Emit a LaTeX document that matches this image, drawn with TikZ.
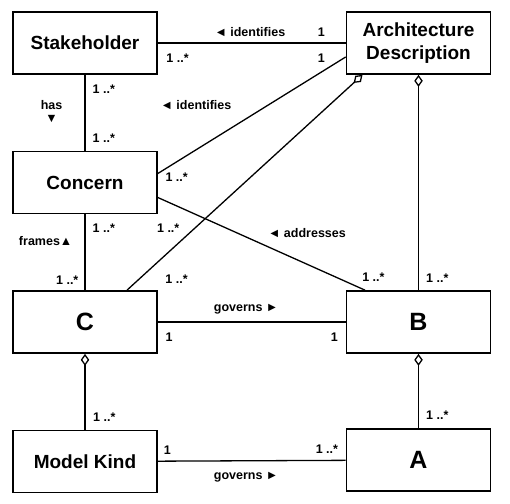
\documentclass[tikz,border=0pt]{standalone}
\usepackage{fontspec}
\setmainfont{Liberation Sans}
\usetikzlibrary{positioning,arrows.meta}
\begin{document}
\begin{tikzpicture}[x=1pt, y=-1pt,
        box/.style = {draw, line width=1.7pt, minimum width=144pt, minimum height=62pt, align=center, font=\fontsize{19}{23}\selectfont\bfseries},
        big/.style = {font=\fontsize{25}{30}\selectfont\bfseries},
        lbl/.style = {inner sep=1pt, font=\fontsize{12.5}{13}\selectfont\bfseries},
        link/.style = {line width=1.3pt},
        agg/.style = {link, -{Diamond[open, fill=white, length=12pt, width=8.5pt]}},
        node distance=139.5pt]
        \useasboundingbox (0,0) rectangle (510,503);
        \node[box] (sh) at (85,43) {Stakeholder};
        \node[box] (ad) [right of=sh, node distance=333.5pt] {Architecture\\Description};
        \node[box] (co) [below of=sh] {Concern};
        \node[box,big] (c) [below of=co] {C};
        \node[box] (mk) [below of=c] {Model Kind};
        \node[box,big] (b) [right of=c, node distance=333.5pt] {B};
        \node[box,big] (a) [below of=b, node distance=138pt] {A};
        \draw[link] (sh) -- node[lbl, pos=.49, above=5pt] (l1) {◄ identifies}
            node[lbl, pos=.87, above=5pt] (l2) {1}
            node[lbl, pos=.105, below=9pt] (l3) {1 ..*} (ad);
        \draw[link] (sh) -- node[lbl, pos=.19, right=6pt] (l4) {1 ..*}
            node[lbl, pos=.83, right=6pt] (l5) {1 ..*}
            node[lbl, pos=.48, left=21pt, align=center] (l6) {has\\▼} (co);
        \draw[link] ([yshift=9pt]co.east) -- node[lbl, pos=0, anchor=west, xshift=6pt, yshift=-4pt] (l7) {1 ..*}
            node[lbl, pos=.87, above=8pt] (l8) {1}
            node[lbl, pos=.4, above left=16pt and 0pt] (l9) {◄ identifies} ([yshift=-14pt]ad.west);
        \draw[agg] ([xshift=42pt]c.north) -- node[lbl, pos=.05, right=25pt] (l10) {1 ..*} ([xshift=-56pt]ad.south);
        \draw[agg] (b) -- node[lbl, pos=.055, right=6pt] (l11) {1 ..*} (ad);
        \draw[link] ([yshift=-15pt]co.east) -- node[lbl, pos=.72, above=25pt] (l12) {◄ addresses}
            node[lbl, pos=.05, below=20pt] (l13) {1 ..*}
            node[lbl, pos=.95, above right=2pt and 6pt] (l14) {1 ..*} ([xshift=-53.5pt]b.north);
        \draw[link] (co) -- node[lbl, pos=.18, right=6pt] (l15) {1 ..*}
            node[lbl, pos=.35, left=11pt] (l16) {frames▲}
            node[lbl, pos=.87, left=5pt] (l17) {1 ..*} (c);
        \draw[link] (c) -- node[lbl, pos=.47, above=6pt] (l18) {governs ►}
            node[lbl, pos=.06, below=9pt] (l19) {1}
            node[lbl, pos=.94, below=9pt] (l20) {1} (b);
        \draw[agg] (mk) -- node[lbl, pos=.16, right=6.5pt] (l21) {1 ..*} (c);
        \draw[agg] (a) -- node[lbl, pos=.18, right=6pt] (l22) {1 ..*} (b);
        \draw[link] (mk) -- node[lbl, pos=.05, above=5pt] (l23) {1}
            node[lbl, pos=.9, above=5pt] (l24) {1 ..*}
            node[lbl, pos=.47, below=9.5pt] (l25) {governs ►} (a);
    \end{tikzpicture}
\end{document}
